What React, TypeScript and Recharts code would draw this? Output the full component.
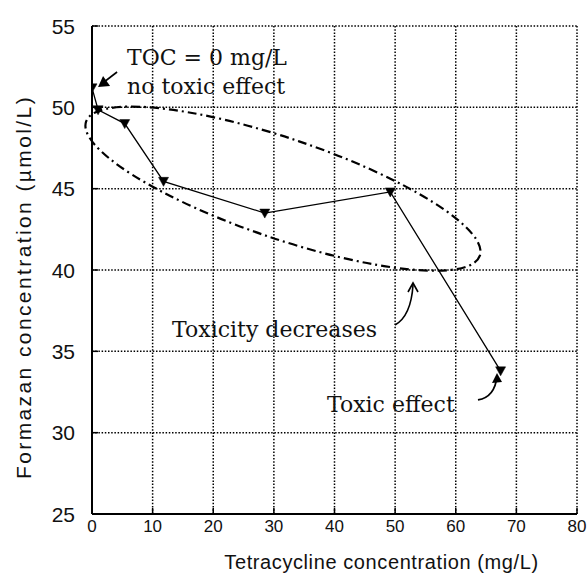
import React from 'react';
import { LineChart, Line, XAxis, YAxis, CartesianGrid, ReferenceDot } from 'recharts';

// Data
const tetracycline = [0, 1.0, 5.4, 11.8, 28.5, 49.2, 67.4];
const formazan = [51.2, 49.85, 49.0, 45.45, 43.5, 44.8, 33.8];
const xTicks = [0, 10, 20, 30, 40, 50, 60, 70, 80];
const yTicks = [25, 30, 35, 40, 45, 50, 55];

const xTitle = 'Tetracycline concentration (mg/L)';
const yTitle = 'Formazan concentration (\u00b5mol/L)';
const noteTop1 = 'TOC = 0 mg/L';
const noteTop2 = 'no toxic effect';
const noteMid = 'Toxicity decreases';
const noteLow = 'Toxic effect';

const data = tetracycline.map((x, i) => ({ x, y: formazan[i] }));

const SANS = '"Liberation Sans", Arial, sans-serif';
const SERIF = '"DejaVu Serif", serif';

const TriangleDot = (props: any) => {
  const { cx, cy } = props;
  if (cx == null || cy == null) return null;
  return <polygon points={`${cx - 5},${cy - 4} ${cx + 5},${cy - 4} ${cx},${cy + 5}`} fill="#000" stroke="#000" strokeWidth={0.5} />;
};

const XTick = (props: any) => {
  const { x, y, payload } = props;
  const axisY = y - 6;
  return (
    <g>
      <line x1={x} x2={x} y1={axisY} y2={axisY - 6} stroke="#000" strokeWidth={1.5} />
      <text x={x} y={y} dy="0.72em" textAnchor="middle" fontFamily={SANS} fontSize={17} fill="#111">
        {payload.value}
      </text>
    </g>
  );
};

const YTick = (props: any) => {
  const { x, y, payload } = props;
  const axisX = x + 17;
  return (
    <g>
      <line x1={axisX} x2={axisX + 6} y1={y} y2={y} stroke="#000" strokeWidth={1.5} />
      <text x={x} y={y} dy="0.36em" textAnchor="end" fontFamily={SANS} fontSize={21} fill="#111">
        {payload.value}
      </text>
    </g>
  );
};

const XTitle = (props: any) => {
  const { x, y, width } = props.viewBox || {};
  return (
    <text x={x + width / 2 + 47} y={y + 55} textAnchor="middle" fontFamily={SANS} fontSize={20} letterSpacing={0.6} fill="#111">
      {xTitle}
    </text>
  );
};

const YTitle = (props: any) => {
  const { y, height } = props.viewBox || {};
  const cx = 31;
  const cy = y + height / 2 + 17;
  return (
    <text x={cx} y={cy} transform={`rotate(-90 ${cx} ${cy})`} textAnchor="middle" fontFamily={SANS} fontSize={21} letterSpacing={2.4} fill="#111">
      {yTitle}
    </text>
  );
};

const EllipseShape = (p: any) => (
  <ellipse
    cx={p.cx}
    cy={p.cy}
    rx={208}
    ry={50}
    transform={`rotate(18.8 ${p.cx} ${p.cy})`}
    fill="none"
    stroke="#000"
    strokeWidth={2.2}
    strokeDasharray="9 4 2 4"
  />
);

const TopNote = (p: any) => (
  <g>
    <line x1={p.cx + 19} y1={p.cy - 15} x2={p.cx + 6} y2={p.cy - 5} stroke="#000" strokeWidth={1.6} />
    <polygon points={`${p.cx},${p.cy} ${p.cx + 12},${p.cy - 1} ${p.cx + 5},${p.cy - 11}`} fill="#000" />
    <text x={p.cx + 29} y={p.cy - 22} fontFamily={SERIF} fontSize={22} fill="#111">{noteTop1}</text>
    <text x={p.cx + 29} y={p.cy + 7} fontFamily={SERIF} fontSize={22} fill="#111">{noteTop2}</text>
  </g>
);

const MidNote = (p: any) => (
  <g>
    <path d={`M ${p.cx - 18} ${p.cy + 42} Q ${p.cx - 2} ${p.cy + 33} ${p.cx} ${p.cy + 2}`} fill="none" stroke="#000" strokeWidth={1.6} />
    <path d={`M ${p.cx - 5} ${p.cy + 9} L ${p.cx} ${p.cy} L ${p.cx + 5} ${p.cy + 9}`} fill="none" stroke="#000" strokeWidth={1.6} />
    <text x={p.cx - 36} y={p.cy + 54} textAnchor="end" fontFamily={SERIF} fontSize={22} fill="#111">{noteMid}</text>
  </g>
);

const LowNote = (p: any) => (
  <g>
    <path d={`M ${p.cx - 19} ${p.cy + 27} Q ${p.cx - 2} ${p.cy + 24} ${p.cx} ${p.cy + 3}`} fill="none" stroke="#000" strokeWidth={1.8} />
    <polygon points={`${p.cx},${p.cy} ${p.cx - 5},${p.cy + 10} ${p.cx + 5},${p.cy + 9}`} fill="#000" />
    <text x={p.cx - 170} y={p.cy + 39} fontFamily={SERIF} fontSize={22} fill="#111">{noteLow}</text>
  </g>
);

export default function App() {
  return (
    <div style={{ position: 'absolute', left: 0, top: 0, width: 588, height: 585, background: '#fff' }}>
      <LineChart width={588} height={585} data={data} margin={{ top: 26, right: 11, bottom: 11, left: 0 }}>
        <CartesianGrid stroke="#000" strokeWidth={1.5} strokeDasharray="1.5 1.7" verticalPoints={undefined} />
        <XAxis
          type="number"
          dataKey="x"
          domain={[0, 80]}
          ticks={xTicks}
          interval={0}
          height={60}
          tickSize={0}
          tickMargin={6}
          tick={<XTick />}
          axisLine={{ stroke: '#000', strokeWidth: 2 }}
          tickLine={false}
          allowDataOverflow
          label={{ content: (props: any) => <XTitle {...props} /> }}
        />
        <YAxis
          type="number"
          dataKey="y"
          domain={[25, 55]}
          ticks={yTicks}
          interval={0}
          width={92}
          tickSize={0}
          tickMargin={17}
          tick={<YTick />}
          axisLine={{ stroke: '#000', strokeWidth: 2 }}
          tickLine={false}
          allowDataOverflow
          label={{ content: (props: any) => <YTitle {...props} /> }}
        />
        <ReferenceDot x={31.5} y={45} r={0} ifOverflow="visible" shape={EllipseShape} />
        <Line
          type="linear"
          dataKey="y"
          stroke="#000"
          strokeWidth={1.3}
          dot={<TriangleDot />}
          activeDot={false}
          isAnimationActive={false}
        />
        <ReferenceDot x={1.0} y={51.25} r={0} ifOverflow="visible" shape={TopNote} />
        <ReferenceDot x={52.95} y={39.2} r={0} ifOverflow="visible" shape={MidNote} />
        <ReferenceDot x={66.8} y={33.67} r={0} ifOverflow="visible" shape={LowNote} />
      </LineChart>
    </div>
  );
}
